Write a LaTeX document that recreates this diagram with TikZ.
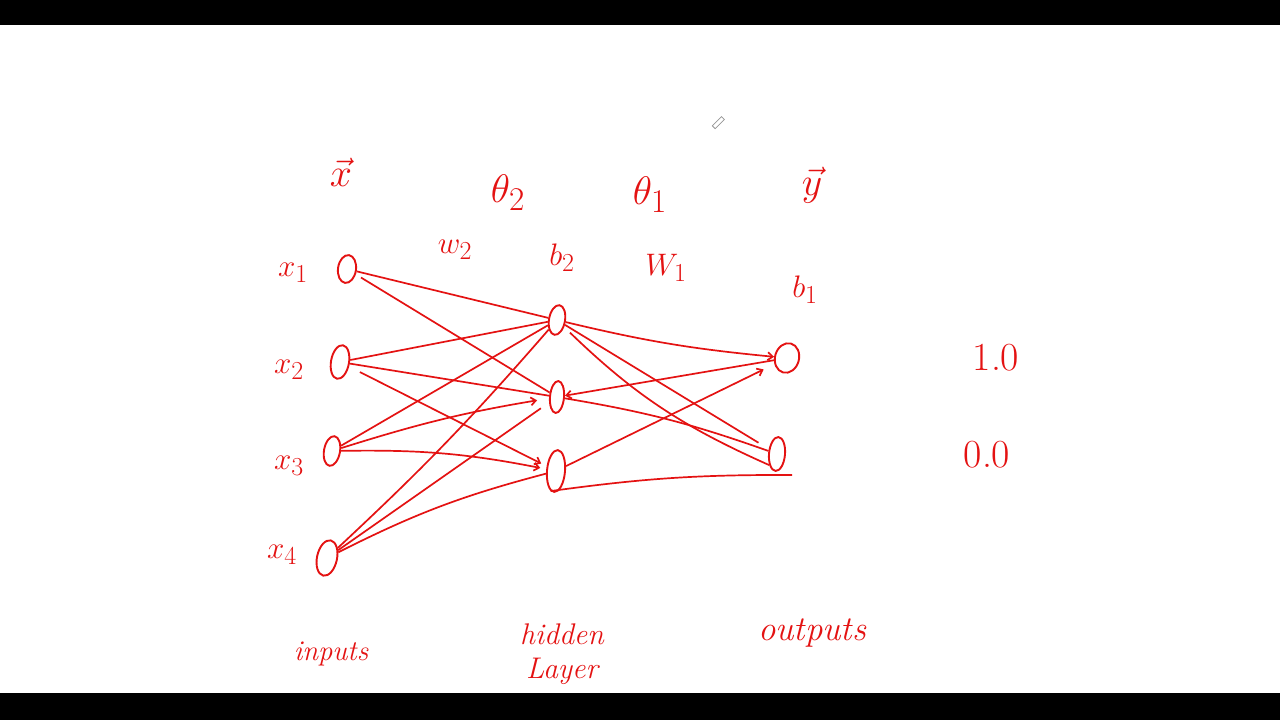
\documentclass[tikz,border=0pt]{standalone}
\usetikzlibrary{shapes.geometric,arrows.meta}
\definecolor{ink}{RGB}{228,18,18}
\definecolor{cursor}{RGB}{150,150,150}
\tikzset{
  neuron/.style={ellipse, draw=ink, line width=1.9pt, inner sep=0pt},
  wire/.style={draw=ink, line width=1.7pt},
  tipped/.style={-{Straight Barb[length=5pt,width=8pt]}},
  lbl/.style={text=ink, inner sep=0pt, font=\Huge, scale=1.25},
  big/.style={text=ink, inner sep=0pt, font=\Huge, scale=1.6},
  word/.style={text=ink, inner sep=0pt, font=\Huge\itshape, align=center}
}
\begin{document}
\begin{tikzpicture}[x=1pt,y=1pt]
\useasboundingbox (0,0) rectangle (1280,-720);
\fill[white] (0,0) rectangle (1280,-720);
\fill[black] (0,0) rectangle (1280,-25);
\fill[black] (0,-693) rectangle (1280,-720);

% cursor
\draw[cursor, line width=0.8pt, rotate around={45:(718,-123)}] (712,-125) rectangle (725,-121);

% neurons
\node[neuron, minimum width=18pt, minimum height=28pt, rotate=-8] (i1) at (347,-269) {};
\node[neuron, minimum width=18pt, minimum height=34pt, rotate=-10] (i2) at (340,-362) {};
\node[neuron, minimum width=16pt, minimum height=30pt, rotate=-10] (i3) at (332,-451) {};
\node[neuron, minimum width=20pt, minimum height=36pt, rotate=-12] (i4) at (327,-558) {};
\node[neuron, minimum width=16pt, minimum height=30pt, rotate=-10] (h1) at (557,-320) {};
\node[neuron, minimum width=14pt, minimum height=32pt, rotate=-5] (h2) at (557,-397) {};
\node[neuron, minimum width=18pt, minimum height=42pt, rotate=-5] (h3) at (556,-471) {};
\node[neuron, minimum width=24pt, minimum height=30pt, rotate=-15] (o1) at (787,-358) {};
\node[neuron, minimum width=16pt, minimum height=34pt, rotate=-5] (o2) at (777,-454) {};
\coordinate (o2end) at (792,-475);

% input -> hidden
\draw[wire] (i1) -- (h1);
\draw[wire, shorten <=6pt] (i1) -- (h2);
\draw[wire] (i2) -- (h1);
\draw[wire] (i2) -- (h2);
\draw[wire, tipped, shorten <=12pt, shorten >=6pt] (i2) -- (h3);
\draw[wire] (i3) -- (h1);
\draw[wire, tipped, shorten >=12pt] (i3) to[bend left=4] (h2);
\draw[wire, tipped, shorten >=6pt] (i3) to[bend left=6] (h3);
\draw[wire] (i4) to[bend right=3] (h1);
\draw[wire, shorten >=10pt] (i4) -- (h2);
\draw[wire] (i4) to[bend left=6] (h3);

% hidden -> output
\draw[wire, tipped] (h1) to[bend right=4] (o1);
\draw[wire, shorten >=12pt] (h1) -- (o2);
\draw[wire, shorten <=8pt] (h1) to[bend right=10] (o2.-120);
\draw[wire] (h2) to[bend left=5] (o2);
\draw[wire, tipped] (o1) -- (h2);
\draw[wire, tipped, shorten >=12pt] (h3) -- (o1);
\draw[wire] (h3.-100) to[bend left=4] (o2end);

% labels
\node[big] (lx) at (341,-172) {$\vec{x}$};
\node[big] (lth2) at (508,-193) {$\theta_2$};
\node[big] (lth1) at (650,-195) {$\theta_1$};
\node[big] (ly) at (812,-185) {$\vec{y}$};
\node[lbl] (lx1) at (293,-273) {$x_1$};
\node[lbl] (lx2) at (289,-370) {$x_2$};
\node[lbl] (lx3) at (289,-466) {$x_3$};
\node[lbl] (lx4) at (282,-555) {$x_4$};
\node[lbl] (lw2) at (455,-250) {$w_2$};
\node[lbl] (lb2) at (562,-258) {$b_2$};
\node[lbl] (lw1) at (666,-268) {$W_1$};
\node[lbl] (lb1) at (805,-290) {$b_1$};
\node[big] (v1) at (996,-358) {1.0};
\node[big] (v0) at (987,-455) {0.0};
\node[word, scale=1.15] (tin) at (331,-654) {inputs};
\node[word, scale=1.2] (thid) at (562,-654) {hidden\\[-2pt]Layer};
\node[word, scale=1.4] (tout) at (812,-633) {outputs};
\end{tikzpicture}
\end{document}
